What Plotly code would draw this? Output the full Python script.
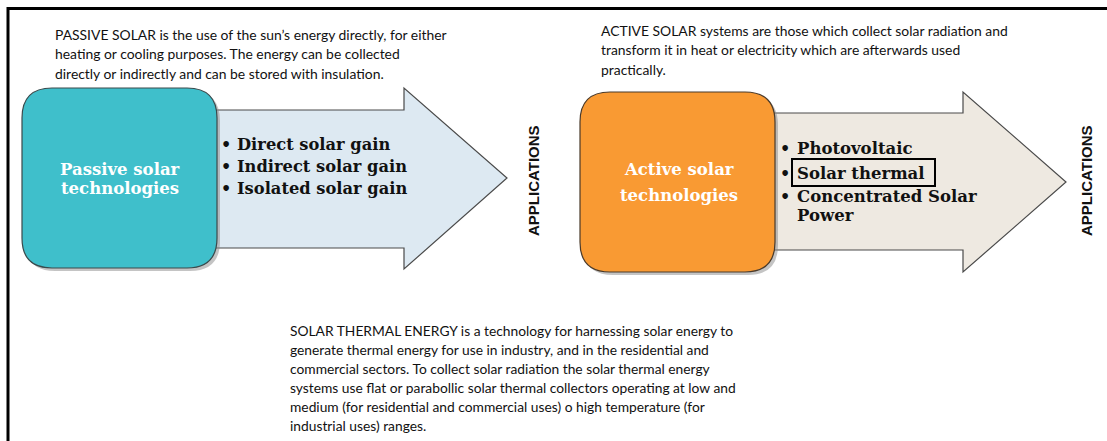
import plotly.graph_objects as go

W, H = 1107, 441

# ---- content ----
passive_intro = [
    "PASSIVE SOLAR is the use of the sun’s energy directly, for either",
    "heating or cooling purposes. The energy can be collected",
    "directly or indirectly and can be stored with insulation.",
]
active_intro = [
    "ACTIVE SOLAR systems are those which collect solar radiation and",
    "transform it in heat or electricity which are afterwards used",
    "practically.",
]
thermal_text = [
    "SOLAR THERMAL ENERGY is a technology for harnessing solar energy to",
    "generate thermal energy for use in industry, and in the residential and",
    "commercial sectors. To collect solar radiation the solar thermal energy",
    "systems use flat or parabollic solar thermal collectors operating at low and",
    "medium (for residential and commercial uses) o high temperature (for",
    "industrial uses) ranges.",
]
passive_box_label = ["Passive solar", "technologies"]
active_box_label = ["Active solar", "technologies"]
passive_items = ["Direct solar gain", "Indirect solar gain", "Isolated solar gain"]
active_items = ["Photovoltaic", "Solar thermal", "Concentrated Solar", "Power"]
active_bullets = [True, True, True, False]
side_label = "APPLICATIONS"

# ---- layout geometry (pixel coords, y downward) ----
SANS = "Lato, 'Liberation Sans', sans-serif"
SERIF = "'DejaVu Serif', 'Liberation Serif', serif"
BOLD_SANS = "'Liberation Sans', Arial, sans-serif"


def rrect(x0, y0, x1, y1, r):
    return (f"M {x0+r},{y0} L {x1-r},{y0} Q {x1},{y0} {x1},{y0+r} "
            f"L {x1},{y1-r} Q {x1},{y1} {x1-r},{y1} L {x0+r},{y1} "
            f"Q {x0},{y1} {x0},{y1-r} L {x0},{y0+r} Q {x0},{y0} {x0+r},{y0} Z")


def arrow(x0, bt, bb, hx, ht, hb, tx, ty):
    return (f"M {x0},{bt} L {hx},{bt} L {hx},{ht} L {tx},{ty} "
            f"L {hx},{hb} L {hx},{bb} L {x0},{bb} Z")


shapes = []
annotations = []

# frame lines
shapes.append(dict(type="line", x0=7, y0=8.5, x1=W, y1=8.5, line=dict(color="black", width=3)))
shapes.append(dict(type="line", x0=8, y0=7, x1=8, y1=H, line=dict(color="black", width=3)))

# passive arrow + box
shapes.append(dict(type="path", path=arrow(205, 110, 248, 404, 88, 269, 507, 178),
                   fillcolor="#DDE9F2", line=dict(color="#4a4a4a", width=1.2)))
shapes.append(dict(type="path", path=rrect(25, 91, 220, 271, 30),
                   fillcolor="#8a8a8a", line=dict(width=0), opacity=0.5))
shapes.append(dict(type="path", path=rrect(22, 88, 217, 268, 30),
                   fillcolor="#3FBFCB", line=dict(color="#3a4a4c", width=1.2)))

# active arrow + box
shapes.append(dict(type="path", path=arrow(765, 113, 250, 963, 92, 272, 1066, 182),
                   fillcolor="#EEE9E1", line=dict(color="#4a4a4a", width=1.2)))
shapes.append(dict(type="path", path=rrect(583, 95, 778, 275, 30),
                   fillcolor="#8a8a8a", line=dict(width=0), opacity=0.5))
shapes.append(dict(type="path", path=rrect(580, 92, 775, 272, 30),
                   fillcolor="#F99A33", line=dict(color="#4a3a2a", width=1.2)))

# highlight box around "Solar thermal"
shapes.append(dict(type="rect", x0=792, y0=159, x1=935, y1=186,
                   line=dict(color="black", width=2), fillcolor="rgba(0,0,0,0)"))


def txt(x, y, s, size, family=SANS, color="#111111", xanchor="left", bold=False, angle=0):
    annotations.append(dict(
        x=x, y=y, xref="x", yref="y", text=(f"<b>{s}</b>" if bold else s),
        showarrow=False, xanchor=xanchor, yanchor="middle", textangle=angle,
        font=dict(family=family, size=size, color=color)))


for i, s in enumerate(passive_intro):
    txt(53, 34 + i * 19.5, s, 13.9)
for i, s in enumerate(active_intro):
    txt(599, 30 + i * 19.5, s, 13.9)
for i, s in enumerate(thermal_text):
    txt(288, 330 + i * 19, s, 13.8)

for i, s in enumerate(passive_box_label):
    txt(120, 169 + i * 19, s, 16.5, family=SERIF, color="white", xanchor="center", bold=True)
for i, s in enumerate(active_box_label):
    txt(679, 169 + i * 26, s, 16.5, family=SERIF, color="white", xanchor="center", bold=True)

for i, s in enumerate(passive_items):
    y = 144 + i * 22
    txt(219, y, "<b>•</b>", 16, family=SERIF)
    txt(235, y, s, 16.3, family=SERIF, bold=True)

ys_active = [148, 173, 196, 215]
for s, b, y in zip(active_items, active_bullets, ys_active):
    if b:
        txt(778, y, "<b>•</b>", 16, family=SERIF)
    txt(795, y, s, 16.5, family=SERIF, bold=True)

txt(533, 181, side_label, 15, family=BOLD_SANS, xanchor="center", bold=True, angle=-90)
txt(1086, 181, side_label, 15, family=BOLD_SANS, xanchor="center", bold=True, angle=-90)

fig = go.Figure()
fig.update_layout(
    width=W, height=H, margin=dict(l=0, r=0, t=0, b=0),
    paper_bgcolor="white", plot_bgcolor="white",
    xaxis=dict(range=[0, W], visible=False, fixedrange=True),
    yaxis=dict(range=[H, 0], visible=False, fixedrange=True),
    shapes=shapes, annotations=annotations, showlegend=False,
)
fig.write_html("out.html", config={"displayModeBar": False},
               post_script="document.body.style.margin='0';document.body.style.overflow='hidden';")
